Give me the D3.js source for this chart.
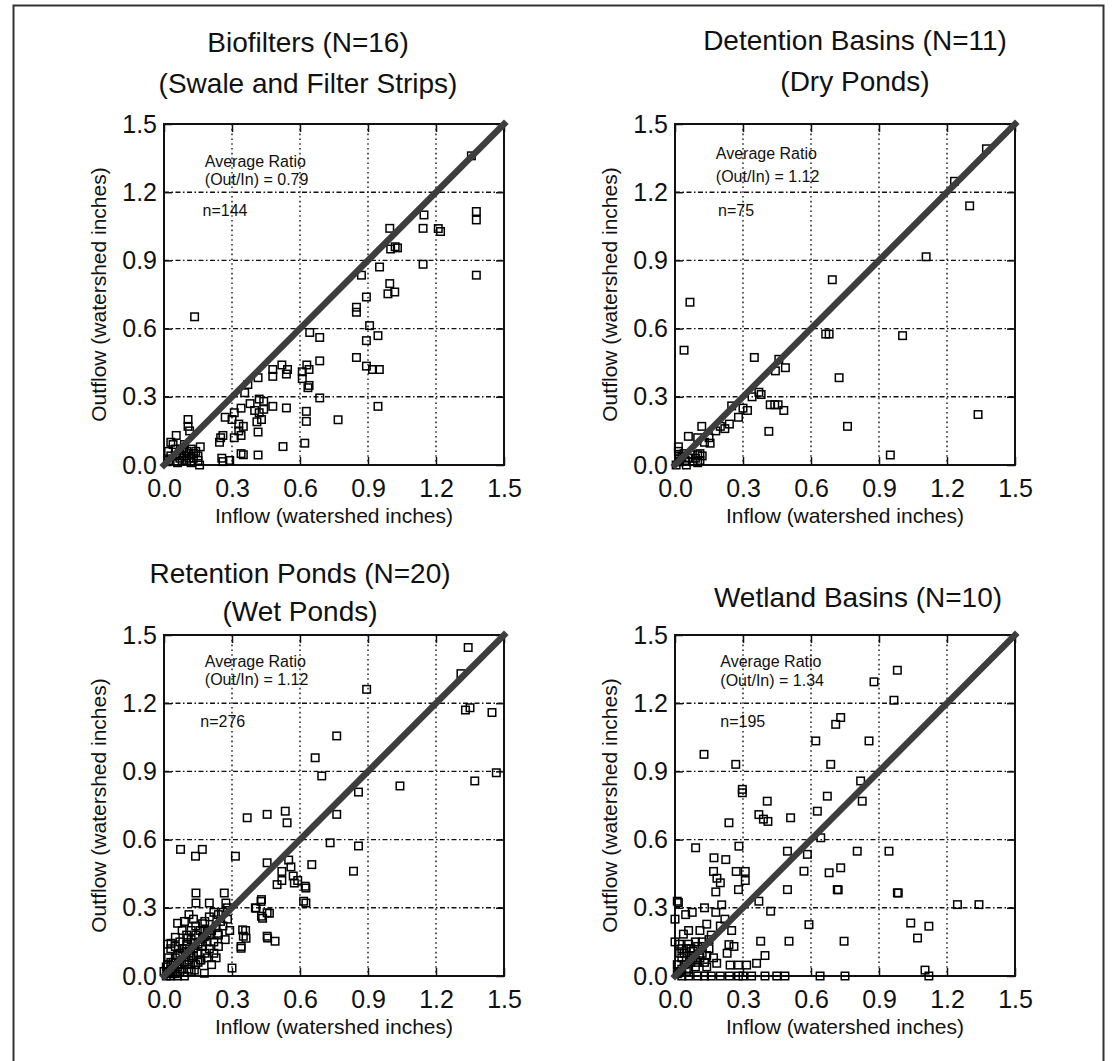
<!DOCTYPE html>
<html>
<head>
<meta charset="utf-8">
<script src="https://cdn.jsdelivr.net/npm/d3@7"></script>
<style>
  html, body { margin: 0; padding: 0; background: #fff; }
  svg { display: block; }
  text { font-family: "Liberation Sans", Arial, sans-serif; fill: #111; }
</style>
</head>
<body>
<svg id="chart" width="1115" height="1061"></svg>
<script>
// ---------------- DATA ----------------
const panelTitles = [
  ["Biofilters (N=16)", "(Swale and Filter Strips)"],
  ["Detention Basins (N=11)", "(Dry Ponds)"],
  ["Retention Ponds (N=20)", "(Wet Ponds)"],
  ["Wetland Basins (N=10)"]
];
const avgRatios = ["0.79", "1.12", "1.12", "1.34"];
const sampleCounts = ["144", "75", "276", "195"];
const tickValues = [0, 0.3, 0.6, 0.9, 1.2, 1.5];
const gridValues = [0.3, 0.6, 0.9, 1.2];
const xAxisLabel = "Inflow (watershed inches)";
const yAxisLabel = "Outflow (watershed inches)";

// [inflow, outflow]
const biofilters = [
  [0.135,0.652],[1.378,1.115],[1.378,1.078],[1.378,0.835],[1.356,1.36],[1.147,1.10],[1.143,1.041],
  [1.22,1.027],[1.21,1.04],[1.143,0.883],[0.996,1.041],[1.0,0.95],[1.02,0.96],[1.03,0.955],
  [0.951,0.871],[0.871,0.835],[0.996,0.798],[1.018,0.761],[0.988,0.753],[0.893,0.739],[0.849,0.694],
  [0.849,0.672],[0.907,0.613],[0.893,0.547],[0.944,0.569],[0.643,0.583],[0.687,0.561],[0.849,0.473],
  [0.893,0.435],[0.92,0.42],[0.95,0.42],[0.52,0.44],[0.54,0.40],[0.48,0.42],[0.48,0.39],[0.545,0.42],
  [0.63,0.44],[0.64,0.42],[0.61,0.41],[0.61,0.38],[0.64,0.35],[0.635,0.34],[0.687,0.458],[0.687,0.295],
  [0.944,0.258],[0.768,0.199],[0.628,0.236],[0.628,0.192],[0.621,0.096],[0.525,0.081],[0.54,0.251],
  [0.48,0.258],[0.42,0.29],[0.38,0.27],[0.40,0.24],[0.42,0.23],[0.44,0.245],[0.44,0.28],[0.43,0.20],
  [0.41,0.19],[0.415,0.145],[0.356,0.318],[0.37,0.354],[0.415,0.384],[0.34,0.25],[0.31,0.23],[0.30,0.20],
  [0.33,0.18],[0.34,0.13],[0.31,0.12],[0.33,0.15],[0.35,0.17],[0.25,0.12],[0.245,0.10],[0.35,0.045],
  [0.34,0.05],[0.29,0.02],[0.26,0.015],[0.255,0.03],[0.415,0.044],[0.106,0.2],[0.106,0.17],[0.113,0.15],
  [0.054,0.13],[0.02,0.06],[0.03,0.04],[0.05,0.07],[0.07,0.05],[0.08,0.07],[0.09,0.04],[0.1,0.06],
  [0.11,0.03],[0.12,0.07],[0.13,0.05],[0.14,0.06],[0.15,0.04],[0.1,0.02],[0.08,0.02],[0.06,0.01],
  [0.157,0.0],[0.12,0.01],[0.04,0.09],[0.16,0.08],[0.09,0.09],[0.03,0.1],[0.15,0.02],[0.27,0.21],
  [0.26,0.13],[0.07,0.03],[0.11,0.05],[0.13,0.03],[0.02,0.02],[0.05,0.04]
];
const detention = [
  [1.374,1.391],[1.233,1.248],[1.30,1.14],[1.108,0.916],[0.694,0.815],[0.066,0.716],[0.04,0.505],
  [0.665,0.576],[0.68,0.576],[1.004,0.569],[0.35,0.473],[0.458,0.465],[0.487,0.428],[0.443,0.414],
  [0.724,0.384],[1.337,0.222],[0.761,0.17],[0.95,0.044],[0.414,0.148],[0.42,0.265],[0.44,0.265],
  [0.455,0.265],[0.48,0.24],[0.37,0.32],[0.38,0.31],[0.34,0.30],[0.30,0.25],[0.32,0.24],[0.28,0.21],
  [0.25,0.26],[0.24,0.18],[0.22,0.16],[0.118,0.17],[0.059,0.126],[0.155,0.096],[0.1,0.12],[0.2,0.17],
  [0.18,0.15],[0.15,0.12],[0.13,0.1],[0.015,0.08],[0.015,0.06],[0.04,0.05],[0.07,0.045],[0.1,0.045],
  [0.11,0.05],[0.08,0.015],[0.045,0.02],[0.02,0.015],[0.06,0.03],[0.03,0.035],[0.09,0.03],[0.12,0.04],
  [0.05,0.0],[0.1,0.01],[0.005,0.0],[0.02,0.04],[0.11,0.02]
];
const retention = [
  [1.342,1.445],[1.447,1.159],[1.33,1.17],[1.35,1.18],[1.31,1.33],[0.894,1.261],[0.762,1.056],
  [0.667,0.96],[0.696,0.88],[1.466,0.894],[1.371,0.858],[1.041,0.836],[0.858,0.809],[0.762,0.711],
  [0.367,0.696],[0.455,0.711],[0.535,0.725],[0.543,0.674],[0.733,0.586],[0.858,0.572],[0.836,0.461],
  [0.073,0.557],[0.169,0.557],[0.139,0.527],[0.315,0.527],[0.455,0.498],[0.652,0.49],[0.52,0.46],
  [0.56,0.48],[0.57,0.44],[0.59,0.42],[0.52,0.42],[0.55,0.51],[0.499,0.402],[0.623,0.395],[0.616,0.329],
  [0.403,0.30],[0.43,0.336],[0.455,0.278],[0.43,0.263],[0.36,0.2],[0.35,0.175],[0.34,0.13],[0.455,0.175],
  [0.49,0.153],[0.141,0.365],[0.141,0.321],[0.2,0.321],[0.266,0.365],[0.273,0.321],[0.06,0.232],
  [0.105,0.166],[0.031,0.144],[0.134,0.144],[0.178,0.173],[0.237,0.188],[0.097,0.107],[0.163,0.071],
  [0.06,0.041],[0.134,0.026],[0.178,0.012],[0.016,0.05],[0.016,0.14],[0.347,0.203],[0.362,0.166],
  [0.34,0.122],[0.435,0.254],[0.465,0.276],[0.406,0.298],[0.428,0.328],[0.575,0.409],[0.626,0.387],
  [0.626,0.321],[0.30,0.035],[0.457,0.167],[0.02,0.01],[0.04,0.02],[0.06,0.0],[0.08,0.03],[0.1,0.05],
  [0.12,0.08],[0.05,0.08],[0.07,0.1],[0.09,0.12],[0.11,0.1],[0.13,0.12],[0.15,0.1],[0.17,0.13],
  [0.19,0.15],[0.21,0.2],[0.23,0.22],[0.25,0.24],[0.2,0.26],[0.18,0.24],[0.16,0.2],[0.14,0.22],
  [0.12,0.2],[0.1,0.18],[0.08,0.2],[0.05,0.17],[0.03,0.12],[0.02,0.08],[0.0,0.02],[0.01,0.04],
  [0.22,0.1],[0.24,0.13],[0.26,0.28],[0.28,0.3],[0.22,0.28],[0.09,0.06],[0.11,0.03],[0.14,0.05],
  [0.16,0.07],[0.03,0.0],[0.07,0.05],[0.18,0.1],[0.2,0.12],[0.01,0.0],[0.03,0.03],[0.05,0.01],
  [0.07,0.02],[0.09,0.0],[0.11,0.07],[0.13,0.09],[0.15,0.14],[0.17,0.17],[0.19,0.19],[0.04,0.06],
  [0.06,0.09],[0.08,0.12],[0.1,0.14],[0.12,0.16],[0.14,0.18],[0.16,0.15],[0.18,0.2],[0.2,0.18],
  [0.22,0.15],[0.24,0.18],[0.26,0.22],[0.28,0.25],[0.24,0.27],[0.17,0.23],[0.13,0.25],[0.11,0.27],
  [0.09,0.24],[0.07,0.15],[0.05,0.13],[0.03,0.06],[0.15,0.06],[0.19,0.08],[0.21,0.05],[0.12,0.02],
  [0.23,0.08],[0.27,0.16],[0.29,0.2]
];
const wetland = [
  [0.981,1.345],[0.878,1.294],[0.966,1.213],[0.709,1.107],[0.731,1.137],[0.621,1.034],[0.856,1.034],
  [0.128,0.975],[0.268,0.931],[0.687,0.931],[0.297,0.821],[0.297,0.806],[0.672,0.791],[0.819,0.858],
  [0.826,0.769],[0.628,0.725],[0.407,0.769],[0.37,0.71],[0.39,0.69],[0.41,0.68],[0.238,0.674],
  [0.51,0.696],[0.643,0.608],[0.091,0.564],[0.282,0.571],[0.172,0.52],[0.224,0.512],[0.17,0.46],
  [0.185,0.43],[0.2,0.41],[0.18,0.37],[0.27,0.46],[0.31,0.46],[0.31,0.42],[0.28,0.38],[0.496,0.549],
  [0.584,0.535],[0.569,0.461],[0.68,0.454],[0.731,0.476],[0.716,0.38],[0.496,0.38],[0.804,0.549],
  [0.944,0.549],[0.981,0.366],[1.246,0.314],[1.341,0.314],[1.04,0.233],[1.12,0.219],[1.07,0.167],
  [0.591,0.226],[0.746,0.153],[0.503,0.153],[0.378,0.153],[0.238,0.138],[0.422,0.285],[0.37,0.329],
  [0.01,0.329],[0.047,0.27],[0.076,0.28],[0.72,0.379],[0.985,0.365],[1.103,0.026],[1.12,0.0],
  [0.338,0],[0.397,0],[0.449,0],[0.485,0],[0.64,0],[0.75,0],[0.397,0.09],[0.36,0.056],[0.316,0.048],
  [0.28,0.048],[0.243,0.048],[0.184,0.056],[0.14,0.228],[0.206,0.313],[0.037,0.184],[0.015,0.323],
  [0.03,0.0],[0.06,0],[0.1,0],[0.13,0],[0.16,0],[0.2,0],[0.24,0],[0.28,0],[0.3,0],[0.02,0.02],
  [0.04,0.05],[0.06,0.03],[0.08,0.08],[0.1,0.06],[0.12,0.1],[0.14,0.04],[0.05,0.12],[0.03,0.08],
  [0.07,0.12],[0.09,0.15],[0.12,0.15],[0.15,0.12],[0.17,0.08],[0.02,0.1],[0.01,0.05],[0.11,0.2],
  [0.16,0.18],[0.2,0.22],[0.22,0.25],[0.25,0.2],[0.18,0.28],[0.13,0.3],[0.23,0.1],[0.26,0.13],
  [0.06,0.2],[0.0,0.15],[0.0,0.25],[0.01,0.01],[0.03,0.03],[0.05,0.02],[0.07,0.06],[0.09,0.04],
  [0.11,0.08],[0.13,0.06],[0.04,0.1],[0.06,0.14],[0.08,0.11],[0.1,0.13],[0.02,0.14],[0.05,0.07],
  [0.07,0.09],[0.09,0.07],[0.03,0.12],[0.12,0.13],[0.14,0.09],[0.15,0.16]
];
const panelData = [biofilters, detention, retention, wetland];

// ---------------- LAYOUT ----------------
const svg = d3.select("#chart");
const FONT = '"Liberation Sans", Arial, sans-serif';

// outer frame
svg.append("path")
  .attr("d", "M13.5,1061 V5.5 H1103.5 V1061")
  .attr("fill", "none").attr("stroke", "#333").attr("stroke-width", 2);

const colX = [164, 675];
const rowY = [124, 635];
const W = 340, H = 341;

const titleLayout = [
  { cx: 308, ys: [52, 93] },
  { cx: 855, ys: [50, 91] },
  { cx: 300, ys: [583, 621] },
  { cx: 858, ys: [607] }
];
const annoLayout = [
  { ax: 0.18, ay: [1.31, 1.23], nx: 0.17, ny: 1.095 },
  { ax: 0.18, ay: [1.345, 1.245], nx: 0.19, ny: 1.095 },
  { ax: 0.18, ay: [1.36, 1.28], nx: 0.16, ny: 1.095 },
  { ax: 0.2, ay: [1.36, 1.275], nx: 0.2, ny: 1.095 }
];

const fmt = d3.format(".1f");

panelData.forEach((pts, i) => {
  const ox = colX[i % 2], oy = rowY[Math.floor(i / 2)];
  const g = svg.append("g").attr("transform", `translate(${ox},${oy})`);
  const x = d3.scaleLinear().domain([0, 1.5]).range([0, W]);
  const y = d3.scaleLinear().domain([0, 1.5]).range([H, 0]);

  // grid
  g.append("g").selectAll("line.h").data(gridValues).join("line")
    .attr("x1", 0).attr("x2", W)
    .attr("y1", d => y(d)).attr("y2", d => y(d))
    .attr("stroke", "#111").attr("stroke-width", 1.4)
    .attr("stroke-dasharray", "5,2.5,1.5,2.5");
  g.append("g").selectAll("line.v").data(gridValues).join("line")
    .attr("y1", 0).attr("y2", H)
    .attr("x1", d => x(d)).attr("x2", d => x(d))
    .attr("stroke", "#111").attr("stroke-width", 1.4)
    .attr("stroke-dasharray", "1.6,3.2");

  // axes (inward ticks)
  const axB = g.append("g").attr("transform", `translate(0,${H})`)
    .call(d3.axisBottom(x).tickValues(tickValues).tickFormat(fmt).tickSizeInner(-8).tickSizeOuter(0).tickPadding(14));
  const axL = g.append("g")
    .call(d3.axisLeft(y).tickValues(tickValues).tickFormat(fmt).tickSizeInner(-8).tickSizeOuter(0).tickPadding(7));
  const axT = g.append("g")
    .call(d3.axisTop(x).tickValues(tickValues).tickFormat("").tickSizeInner(-8).tickSizeOuter(0));
  const axR = g.append("g").attr("transform", `translate(${W},0)`)
    .call(d3.axisRight(y).tickValues(tickValues).tickFormat("").tickSizeInner(-8).tickSizeOuter(0));
  [axB, axL, axT, axR].forEach(a => {
    a.select(".domain").remove();
    a.selectAll("line").attr("stroke", "#111").attr("stroke-width", 1.5);
    a.selectAll("text").attr("font-family", FONT).attr("font-size", 25).attr("fill", "#333");
  });

  // frame
  g.append("rect").attr("x", 0).attr("y", 0).attr("width", W).attr("height", H)
    .attr("fill", "none").attr("stroke", "#111").attr("stroke-width", 2);

  // points
  g.append("g").selectAll("rect").data(pts).join("rect")
    .attr("x", d => x(d[0]) - 3.75).attr("y", d => y(d[1]) - 3.75)
    .attr("width", 7.5).attr("height", 7.5)
    .attr("fill", "none").attr("stroke", "#000").attr("stroke-width", 1.5);

  // 1:1 line
  g.append("line")
    .attr("x1", x(0)).attr("y1", y(0)).attr("x2", x(1.5)).attr("y2", y(1.5))
    .attr("stroke", "#3d3d3d").attr("stroke-width", 6.5).attr("stroke-linecap", "square");

  // annotations
  const a = annoLayout[i];
  g.append("text").attr("x", x(a.ax)).attr("y", y(a.ay[0]))
    .attr("font-size", 16).text("Average Ratio");
  g.append("text").attr("x", x(a.ax)).attr("y", y(a.ay[1]))
    .attr("font-size", 16).text(`(Out/In) = ${avgRatios[i]}`);
  g.append("text").attr("x", x(a.nx)).attr("y", y(a.ny))
    .attr("font-size", 16).text(`n=${sampleCounts[i]}`);

  // axis labels
  g.append("text").attr("x", W / 2).attr("y", H + 58)
    .attr("text-anchor", "middle").attr("font-size", 21).text(xAxisLabel);
  g.append("text")
    .attr("transform", `translate(${-58},${H / 2}) rotate(-90)`)
    .attr("text-anchor", "middle").attr("font-size", 21).text(yAxisLabel);

  // titles
  const t = titleLayout[i];
  panelTitles[i].forEach((line, k) => {
    svg.append("text").attr("x", t.cx).attr("y", t.ys[k])
      .attr("text-anchor", "middle").attr("font-size", 28).attr("fill", "#222").text(line);
  });
});
</script>
</body>
</html>
